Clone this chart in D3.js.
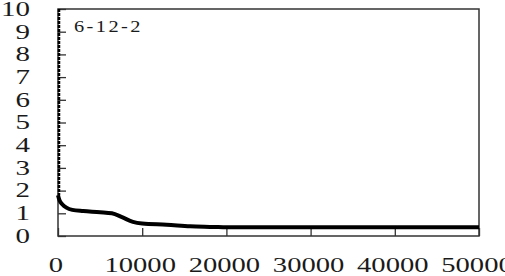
<!DOCTYPE html>
<html lang="en">
<head>
<meta charset="UTF-8">
<title>6-12-2</title>
<style>
    body { margin: 0; background: #fff; }
    svg { display: block; }
    .lbl { font-family: "Liberation Serif", "Times New Roman", serif; fill: #1a1a1a; }
</style>
<script src="https://d3js.org/d3.v7.min.js"></script>
</head>
<body>
<div id="graph"></div>
<script>
// values
// the first drop hugs the y axis (iteration 0), then the curve flattens out
const dropIterations = [0, 0];
const dropValues = [10, 1.8];
const iterations = [0, 200, 500, 1000, 1700, 3000, 5000, 6400, 7600, 8900, 10000, 12900, 15700, 18500, 20000, 30000, 40000, 50000];
const errorValues = [1.8, 1.55, 1.4, 1.25, 1.15, 1.1, 1.05, 1.0, 0.83, 0.62, 0.55, 0.5, 0.43, 0.4, 0.38, 0.38, 0.38, 0.38];
const xTicks = [0, 10000, 20000, 30000, 40000, 50000];
const yTicks = [0, 1, 2, 3, 4, 5, 6, 7, 8, 9, 10];
const panelLabel = "6-12-2";

const width = 505, height = 276;
const margins = { top: 9, bottom: 40, left: 58, right: 26 };

const svg = d3.select("#graph").append("svg")
    .attr("width", width)
    .attr("height", height);

const xScale = d3.scaleLinear()
    .domain([0, 50000])
    .range([margins.left, width - margins.right]);

const yScale = d3.scaleLinear()
    .domain([0, 10])
    .range([height - margins.bottom, margins.top]);

// frame
svg.append("rect")
    .attr("x", xScale(0))
    .attr("y", yScale(10))
    .attr("width", xScale(50000) - xScale(0))
    .attr("height", yScale(0) - yScale(10))
    .attr("fill", "none")
    .attr("stroke", "#333")
    .attr("stroke-width", 1.5);

// inward ticks
const xAxis = d3.axisTop(xScale).tickValues(xTicks).tickSize(8).tickFormat("");
svg.append("g")
    .attr("transform", `translate(0, ${yScale(0)})`)
    .call(xAxis)
    .call(g => g.select(".domain").remove())
    .selectAll("line").attr("stroke", "#333").attr("stroke-width", 1.3);

const yAxis = d3.axisRight(yScale).tickValues(yTicks).tickSize(8).tickFormat("");
svg.append("g")
    .attr("transform", `translate(${xScale(0)}, 0)`)
    .call(yAxis)
    .call(g => g.select(".domain").remove())
    .selectAll("line").attr("stroke", "#333").attr("stroke-width", 1.3);

// tick labels
svg.selectAll(".ylab")
    .data(yTicks)
    .enter().append("text")
    .attr("class", "lbl ylab")
    .attr("text-anchor", "end")
    .attr("dy", "0.34em")
    .attr("font-size", 20)
    .attr("transform", d => `translate(30, ${yScale(d)}) scale(1.45, 1)`)
    .text(d => d);

svg.selectAll(".xlab")
    .data(xTicks)
    .enter().append("text")
    .attr("class", "lbl xlab")
    .attr("text-anchor", "middle")
    .attr("font-size", 22)
    .attr("transform", d => `translate(${xScale(d) - 2}, 272) scale(1.3, 1)`)
    .text(d => d);

// series
const drop = dropIterations.map((x, i) => ({ x: x, y: dropValues[i] }));
const data = iterations.map((x, i) => ({ x: x, y: errorValues[i] }));
const lineGen = d3.line()
    .x(d => xScale(d.x))
    .y(d => yScale(d.y))
    .curve(d3.curveMonotoneX);

svg.append("path")
    .datum(drop)
    .attr("fill", "none")
    .attr("stroke", "#000")
    .attr("stroke-width", 2.5)
    .attr("stroke-dasharray", "3 1")
    .attr("d", d3.line().x(d => xScale(d.x) + 1).y(d => yScale(d.y)));

svg.append("path")
    .datum(data)
    .attr("fill", "none")
    .attr("stroke", "#000")
    .attr("stroke-width", 4)
    .attr("stroke-linejoin", "round")
    .attr("d", lineGen);

// panel label
svg.append("text")
    .attr("class", "lbl")
    .attr("font-size", 17)
    .attr("letter-spacing", 2)
    .attr("transform", "translate(74, 32) scale(1.2, 1)")
    .text(panelLabel);
</script>
</body>
</html>
